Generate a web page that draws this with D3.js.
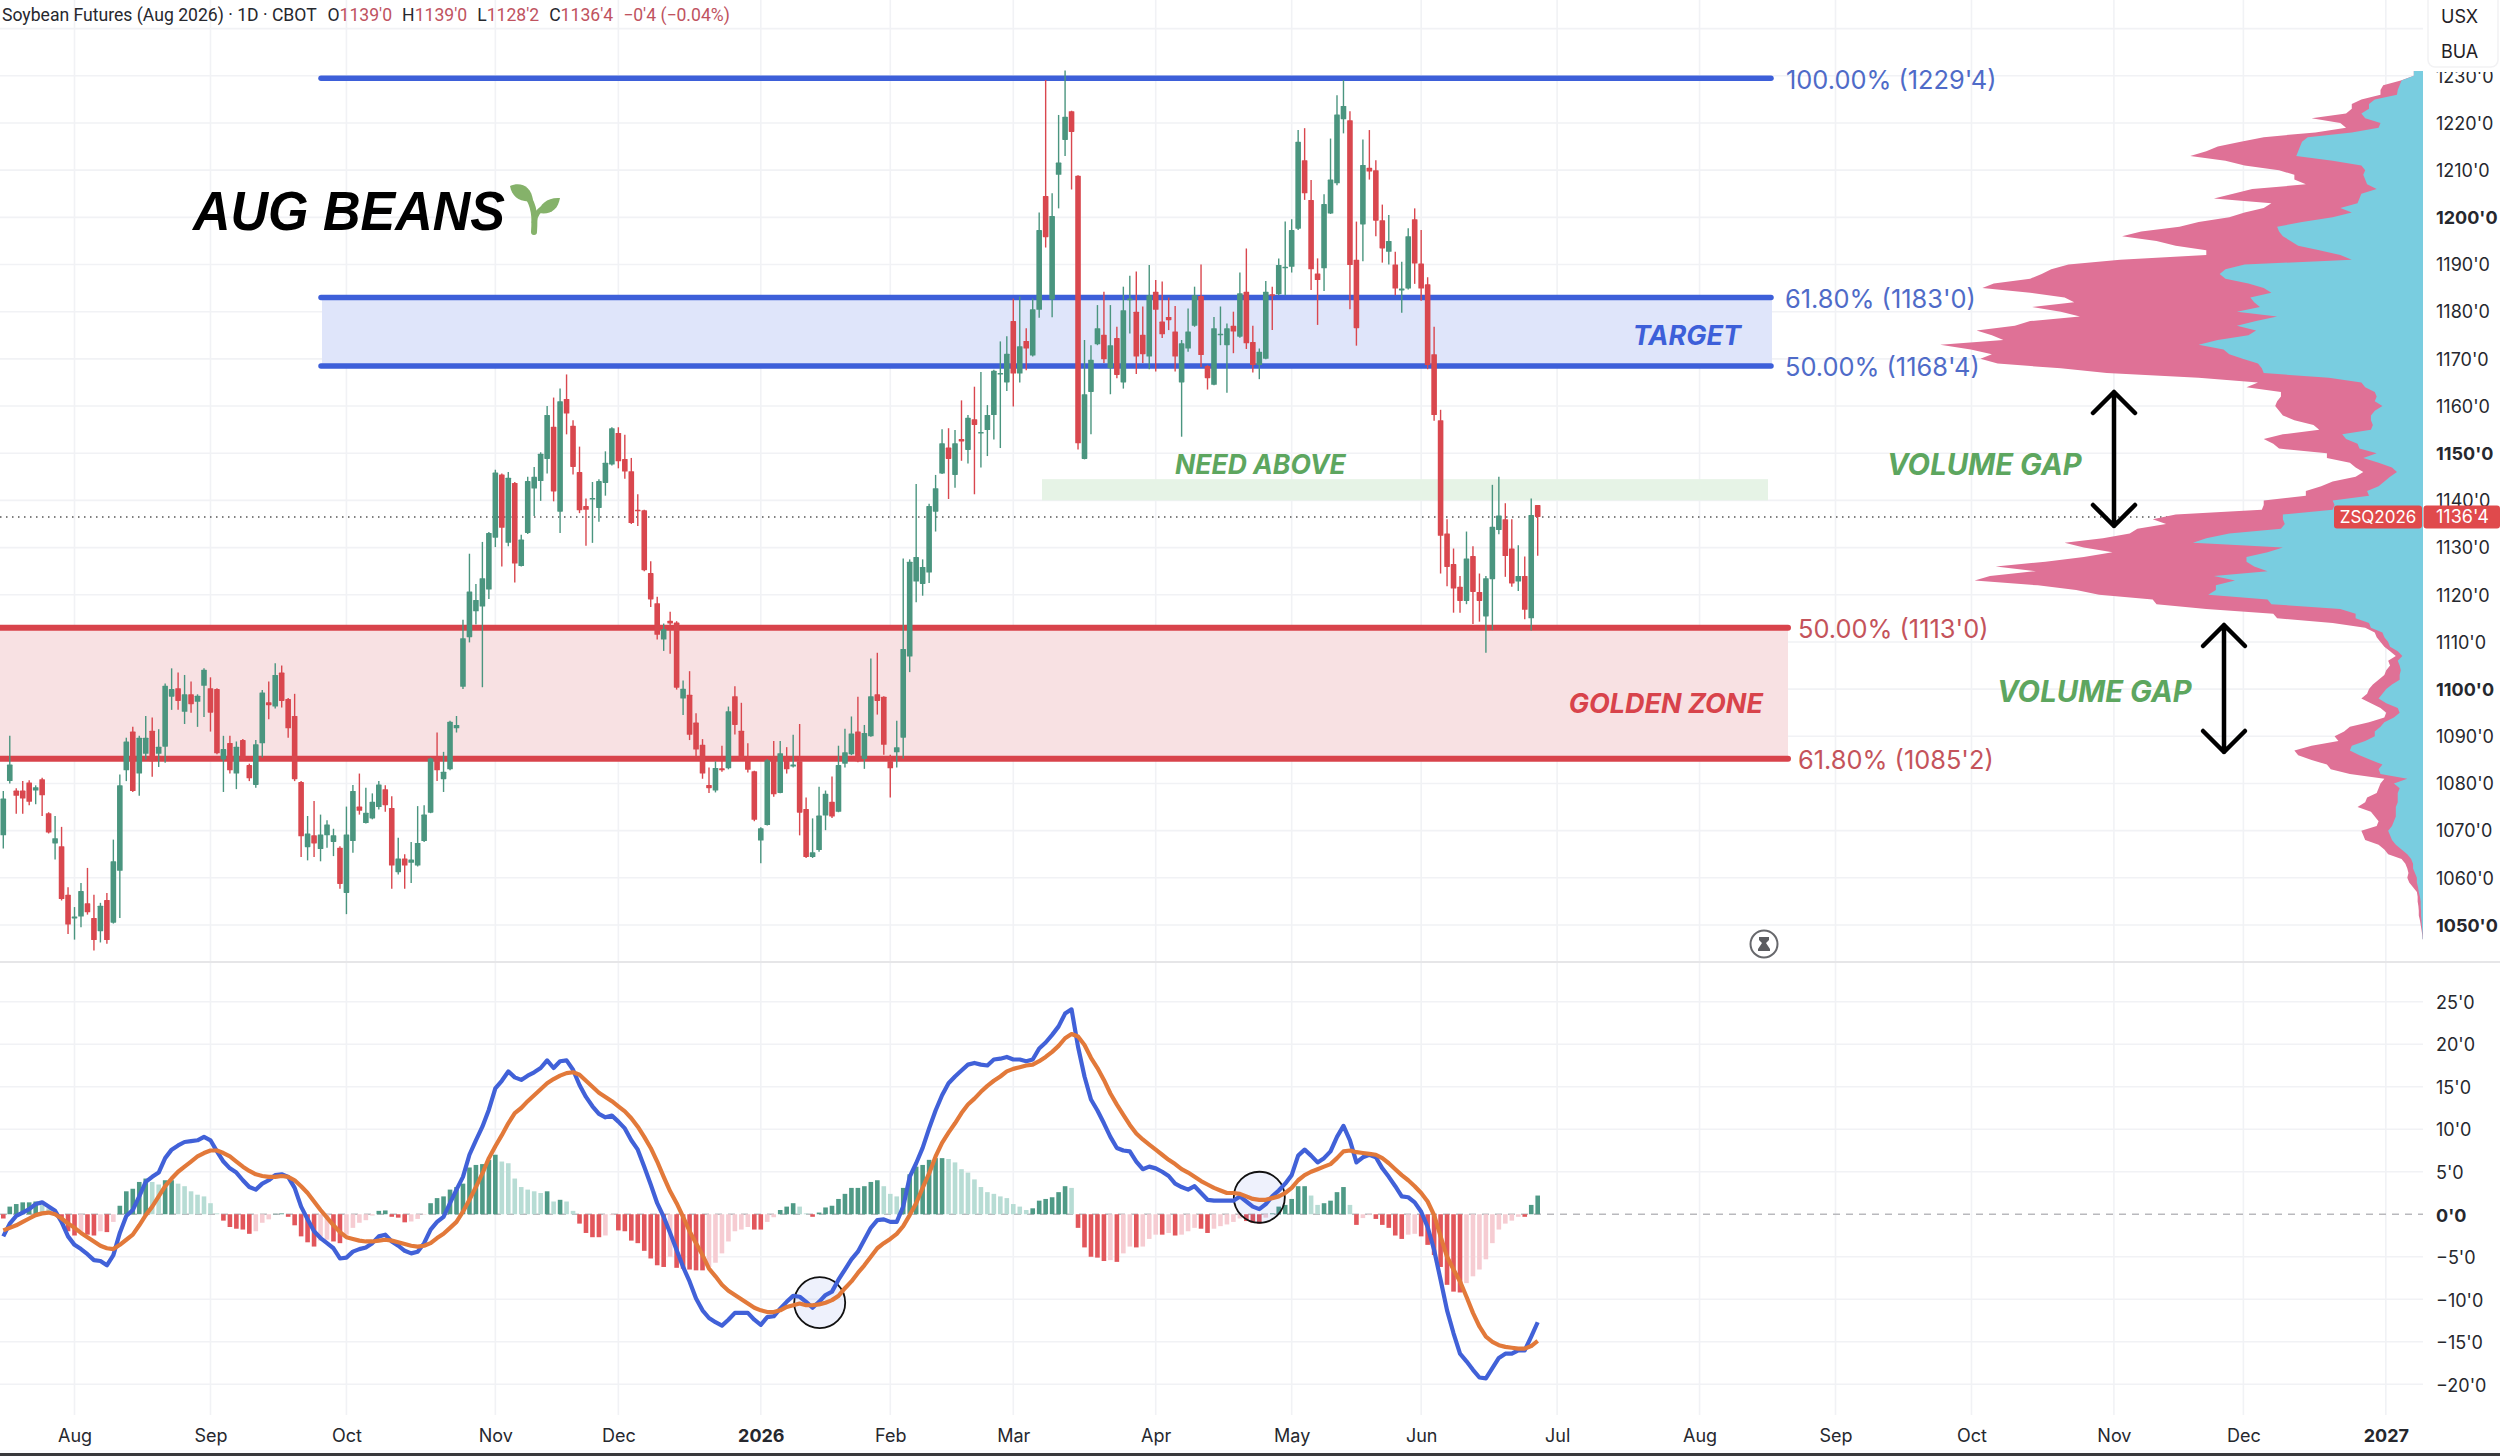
<!DOCTYPE html>
<html>
<head>
<meta charset="utf-8">
<script src="https://cdnjs.cloudflare.com/ajax/libs/d3/7.8.5/d3.min.js"></script>
<style>
html,body{margin:0;padding:0;background:#fff;overflow:hidden}
svg{display:block;font-family:Inter,"Noto Sans",sans-serif}
</style>
</head>
<body>
<script>
var opens = [1069.0,1080.5,1078.5,1078.5,1080.2,1078.5,1080.9,1073.7,1067.3,1066.7,1056.4,1051.4,1051.8,1054.6,1051.5,1048.7,1055.3,1050.5,1061.5,1082.8,
1091.0,1082.1,1086.3,1091.2,1086.3,1087.8,1098.4,1100.2,1095.2,1098.9,1097.3,1100.7,1100.2,1100.0,1085.1,1088.6,1082.1,1089.2,1083.9,1079.7,
1088.5,1097.2,1096.3,1103.5,1097.9,1094.3,1080.3,1066.5,1069.0,1066.1,1069.0,1067.6,1066.4,1056.8,1067.8,1075.1,1071.6,1072.6,1075.0,1078.8,
1074.8,1061.2,1064.1,1063.2,1062.6,1067.8,1073.8,1084.9,1080.9,1083.0,1091.7,1100.5,1111.0,1116.5,1117.5,1121.1,1132.1,1145.5,1131.0,1143.7,
1126.1,1133.1,1142.5,1144.1,1148.8,1155.6,1137.6,1161.5,1155.8,1146.0,1138.8,1140.2,1138.4,1143.7,1147.6,1154.3,1148.8,1146.2,1138.0,1137.9,
1124.6,1118.2,1110.5,1114.5,1114.1,1098.0,1098.8,1092.9,1088.2,1079.7,1078.5,1083.2,1083.2,1098.5,1091.2,1085.1,1082.6,1067.9,1071.2,1084.8,
1078.0,1085.1,1083.6,1084.7,1074.6,1064.4,1065.9,1073.2,1076.1,1074.0,1084.2,1086.2,1091.0,1085.2,1090.0,1098.9,1098.4,1084.7,1086.6,1089.7,
1106.9,1122.8,1122.3,1124.7,1137.6,1145.7,1151.2,1145.4,1153.0,1150.7,1157.2,1154.2,1154.9,1158.1,1166.8,1165.0,1178.0,1166.9,1173.8,1170.7,
1180.4,1204.5,1182.6,1209.0,1216.4,1222.5,1208.8,1148.8,1163.0,1173.1,1175.1,1168.0,1174.4,1165.0,1182.4,1180.0,1175.1,1170.5,1184.2,1177.9,
1178.9,1175.8,1165.0,1172.2,1177.0,1183.3,1168.5,1164.5,1175.0,1172.9,1177.0,1174.7,1184.2,1173.6,1168.7,1170.0,1183.7,1183.7,1189.2,1189.5,
1197.6,1212.1,1203.7,1188.1,1189.2,1200.8,1207.2,1220.8,1220.6,1191.0,1198.5,1210.5,1210.0,1199.4,1192.7,1190.0,1184.5,1184.9,1199.6,1190.2,
1185.8,1171.0,1157.0,1133.0,1126.5,1121.7,1118.7,1128.2,1120.6,1115.4,1123.3,1133.7,1136.0,1129.8,1122.8,1124.0,1115.0,1139.0];
var highs = [1078.4,1090.1,1079.0,1080.5,1080.7,1079.6,1081.2,1073.9,1073.1,1070.8,1058.0,1053.8,1058.9,1062.1,1056.4,1054.7,1056.8,1068.1,1081.9,1089.7,
1092.0,1090.1,1094.3,1094.0,1091.5,1101.2,1104.4,1103.5,1103.0,1101.6,1098.9,1104.4,1102.5,1100.2,1090.1,1090.1,1088.9,1089.4,1084.2,1089.2,
1099.8,1101.6,1105.5,1105.0,1098.1,1099.0,1080.5,1073.1,1076.3,1073.4,1072.2,1070.4,1066.7,1075.1,1079.7,1082.1,1079.1,1077.9,1080.5,1079.6,
1077.3,1068.5,1065.0,1067.6,1075.2,1075.4,1085.5,1090.8,1086.7,1093.3,1094.3,1114.7,1128.7,1122.3,1131.2,1133.3,1146.5,1145.7,1146.0,1143.9,
1132.7,1145.0,1147.1,1150.2,1160.0,1161.8,1163.7,1166.7,1157.0,1151.4,1140.4,1143.9,1144.5,1150.4,1155.5,1155.5,1153.9,1149.0,1141.3,1138.0,
1127.1,1119.6,1113.9,1116.4,1114.4,1101.8,1103.8,1094.9,1089.4,1083.4,1084.7,1088.0,1096.3,1100.6,1097.1,1088.5,1082.7,1070.7,1085.2,1089.0,
1089.0,1087.7,1090.3,1092.6,1077.0,1072.6,1079.3,1078.5,1081.5,1088.0,1091.6,1094.2,1098.4,1092.4,1106.5,1107.7,1098.5,1086.1,1093.3,1127.7,
1127.5,1143.5,1127.5,1139.3,1145.4,1155.1,1155.3,1154.9,1161.2,1158.1,1164.1,1167.2,1160.2,1167.7,1173.7,1174.8,1182.8,1183.2,1176.5,1182.8,
1201.0,1229.1,1205.1,1221.7,1231.1,1222.6,1208.9,1174.0,1172.9,1181.4,1184.2,1181.4,1176.8,1185.3,1187.6,1188.5,1181.1,1189.9,1186.7,1186.4,
1183.0,1181.2,1174.0,1180.7,1185.3,1190.0,1168.7,1178.9,1181.1,1177.5,1180.0,1188.3,1193.4,1177.0,1172.2,1186.5,1185.3,1191.3,1199.1,1199.6,
1218.5,1218.9,1207.9,1191.3,1204.9,1216.7,1225.9,1229.1,1222.5,1199.1,1216.5,1218.5,1212.1,1202.7,1200.5,1192.7,1190.6,1197.7,1201.9,1197.3,
1187.3,1176.8,1159.2,1136.0,1129.8,1124.0,1133.4,1130.3,1124.5,1124.0,1143.3,1145.0,1139.4,1136.0,1130.5,1128.1,1140.4,1139.0];
var lows = [1066.2,1080.0,1073.6,1073.6,1075.4,1075.6,1073.1,1069.4,1063.9,1055.2,1048.1,1046.9,1049.5,1052.2,1044.6,1046.3,1046.0,1050.3,1051.5,1080.5,
1078.2,1077.4,1085.1,1081.4,1083.5,1084.4,1095.6,1095.6,1092.6,1095.0,1092.0,1094.1,1091.0,1086.2,1078.2,1082.1,1078.8,1084.9,1080.5,1079.1,
1085.5,1093.6,1095.9,1096.1,1089.7,1080.5,1064.4,1063.7,1064.4,1063.5,1066.4,1064.6,1057.7,1052.3,1065.3,1073.4,1071.5,1072.4,1074.5,1074.0,
1057.7,1060.7,1057.7,1058.9,1062.4,1067.6,1073.7,1080.5,1078.2,1082.8,1090.8,1100.0,1109.9,1113.7,1100.4,1119.1,1130.1,1126.0,1130.3,1122.6,
1126.0,1132.9,1136.7,1139.9,1145.7,1139.8,1133.1,1154.0,1145.5,1137.3,1130.4,1131.0,1135.5,1141.0,1147.4,1146.8,1144.6,1135.0,1134.6,1125.0,
1117.4,1110.5,1108.1,1107.5,1099.9,1094.5,1089.2,1085.6,1081.0,1078.0,1078.1,1082.5,1083.0,1090.4,1085.1,1082.3,1072.0,1063.1,1071.1,1077.2,
1077.9,1082.1,1083.4,1069.0,1064.2,1064.2,1065.5,1070.1,1072.7,1073.9,1083.4,1086.0,1084.5,1083.1,1089.9,1094.6,1086.1,1077.0,1083.4,1085.3,
1103.6,1118.4,1119.8,1122.5,1133.4,1145.6,1140.3,1142.7,1148.4,1147.8,1141.3,1147.0,1149.4,1152.9,1151.1,1163.2,1159.9,1165.0,1167.6,1170.5,
1178.7,1193.6,1178.8,1201.9,1213.0,1205.9,1150.8,1148.7,1154.0,1172.9,1169.1,1162.5,1165.9,1163.7,1175.4,1166.8,1169.1,1167.8,1167.3,1174.4,
1176.1,1167.3,1153.5,1171.5,1176.8,1168.3,1163.5,1164.4,1172.9,1162.8,1171.2,1174.5,1172.1,1167.1,1165.7,1169.9,1176.1,1183.5,1183.5,1188.3,
1197.3,1203.7,1184.6,1177.2,1184.4,1200.7,1206.8,1217.8,1180.5,1172.8,1190.7,1208.0,1196.0,1190.4,1190.0,1183.5,1179.8,1184.7,1185.9,1182.3,
1167.8,1156.9,1124.5,1121.8,1116.2,1116.2,1118.0,1113.8,1114.3,1107.7,1112.5,1132.8,1123.8,1121.7,1120.8,1114.8,1112.4,1128.25];
var closes = [1076.8,1084.0,1077.4,1076.8,1076.1,1079.2,1077.5,1069.6,1068.4,1055.5,1050.1,1051.8,1057.2,1052.7,1046.8,1054.1,1046.8,1063.5,1079.6,1088.9,
1078.4,1089.7,1089.7,1084.7,1087.8,1100.7,1100.0,1097.5,1098.9,1096.8,1098.6,1104.1,1095.0,1086.4,1087.3,1082.8,1087.8,1085.1,1081.1,1088.3,
1099.3,1096.6,1103.0,1097.5,1091.7,1080.9,1068.8,1069.4,1067.3,1069.2,1071.3,1069.0,1058.7,1069.2,1078.4,1074.2,1073.8,1076.1,1079.8,1075.4,
1062.6,1064.1,1062.6,1063.9,1067.4,1073.4,1085.3,1082.8,1082.5,1093.1,1092.4,1110.8,1120.7,1118.9,1123.5,1133.1,1145.9,1134.2,1144.8,1126.6,
1131.7,1144.1,1145.0,1149.9,1158.1,1141.9,1161.0,1158.4,1147.1,1137.9,1138.0,1140.5,1144.1,1148.0,1155.3,1148.3,1146.1,1135.2,1137.7,1125.2,
1119.0,1111.5,1112.7,1113.9,1100.3,1100.1,1090.3,1087.2,1082.1,1079.0,1083.3,1082.8,1095.3,1092.4,1085.3,1082.9,1072.3,1070.5,1084.9,1077.7,
1086.4,1083.0,1084.0,1073.8,1064.4,1065.4,1073.2,1077.8,1073.0,1083.9,1086.6,1090.6,1084.7,1090.7,1098.5,1097.5,1088.2,1083.2,1087.7,1108.5,
1127.0,1128.0,1125.9,1138.8,1142.6,1152.1,1148.8,1152.1,1152.5,1157.5,1156.0,1154.5,1158.1,1167.5,1167.0,1171.1,1166.9,1172.7,1172.2,1180.5,
1197.3,1195.8,1200.3,1211.6,1221.3,1218.1,1152.1,1162.5,1169.8,1176.5,1169.9,1172.9,1166.6,1180.3,1182.8,1170.5,1171.0,1183.5,1180.4,1175.2,
1178.2,1170.5,1173.3,1175.8,1183.5,1170.8,1165.9,1176.5,1175.3,1176.5,1175.8,1183.9,1173.3,1168.7,1171.5,1184.2,1183.4,1189.9,1189.5,1197.3,
1216.0,1205.1,1189.0,1186.7,1202.8,1208.0,1221.8,1223.6,1189.9,1176.5,1211.1,1209.7,1199.3,1193.4,1195.0,1184.9,1184.9,1196.0,1190.2,1184.9,
1168.7,1158.1,1132.5,1125.9,1121.3,1118.7,1127.7,1120.6,1118.7,1123.5,1134.4,1136.8,1128.2,1122.4,1124.0,1116.8,1136.9,1136.5];

// histogram, macd and signal, one value per candle
var hist = [-0.5,0.9,1.2,1.4,1.4,1.5,1.1,0.7,0.3,-0.9,-2,-2.5,-2.2,-2.4,-2.5,-2,-2.1,-0.9,1,2.7,3,3.8,4.2,3.8,3.5,4,4,3.6,3.3,2.7,2.3,2.1,1.3,0.1,-0.75,-1.5,-1.7,-1.8,-2.3,-2,
-1,-0.6,0.05,0.1,-0.3,-1.3,-2.6,-3.3,-3.8,-3.1,-3,-3.2,-3.4,-2.4,-1.6,-1,-0.7,-0.15,0.4,0.45,-0.3,-0.4,-0.95,-0.85,-0.55,-0.05,1.3,1.9,2.1,2.9,3.2,3.6,5.5,5.8,5.9,6.4,7,6.2,6,4.2,
3.2,2.9,2.7,2.5,2.7,1.5,1.7,1.5,0.4,-1.1,-2.2,-2.7,-2.7,-2.5,-0.1,-1.9,-2,-3.1,-3.4,-4.3,-5.2,-6,-6.2,-5,-6.3,-6.4,-6.5,-6.6,-6.6,-6.2,-5.7,-4.6,-3.2,-2,-1.8,-1.5,-1.8,-1.8,-0.9,-0.35,
0.5,0.9,1.3,0.9,0.1,-0.3,0.2,0.8,1,1.8,2.4,3.1,3.1,3.3,3.8,4,3.3,2.4,2.1,3.1,4.7,5.6,5.8,6.4,6.6,6.6,6.5,6.1,5.3,4.9,4.1,3.2,2.6,2.4,2.1,1.9,1.2,0.9,0.5,0.7,
1.6,1.8,2,2.6,3.3,3.1,-1.6,-3.9,-5,-5.1,-5.5,-5.4,-5.6,-4.6,-3.8,-3.9,-3.8,-2.9,-2.4,-2.4,-2.2,-2.5,-2.4,-2,-1.6,-1.7,-2.2,-1.7,-1.4,-1.2,-0.9,-0.5,-0.8,-1,-1.1,-0.4,0.1,0.9,1.1,1.8,
3.3,3.3,2.2,1.1,1.3,1.6,2.6,3.2,1.1,-1.25,-0.45,-0.1,-0.55,-1.25,-1.6,-2.5,-2.9,-2.4,-2.3,-2.6,-3.6,-4.8,-6.2,-8.3,-9.1,-9.2,-8.1,-7.3,-6.5,-5.3,-3.4,-1.8,-1.1,-0.75,-0.3,-0.3,1.1,2.2];
var macd = [-2.6,-1.1,-0.2,0.2,0.6,1.2,1.4,0.9,0.4,-0.9,-2.6,-3.6,-4.1,-4.7,-5.4,-5.5,-6,-4.8,-2.2,-0.2,0.5,2.1,3.8,4.4,4.9,6.6,7.6,8.1,8.5,8.6,8.7,9.1,8.7,7.4,6.2,5.4,4.9,4,3.2,2.9,
3.6,4,4.6,4.7,4.4,3.1,0.9,-0.6,-2,-2.8,-3.4,-4,-5.2,-5.1,-4.4,-4.1,-3.9,-3.4,-2.6,-2.4,-3.2,-3.7,-4.3,-4.6,-4.4,-3.4,-1.8,-0.9,-0.3,1.3,2.9,4.4,7,8.7,10.3,12.3,14.8,15.7,16.8,16.1,
15.8,16.3,16.7,17.2,18.1,17.2,18,18.1,17,15.2,13.8,12.7,11.8,11.4,11.6,10.9,10.1,8.7,7.6,5.6,3.5,1.3,-0.3,-2.2,-4.2,-6.2,-7.9,-9.9,-11.3,-12.2,-12.7,-13.1,-12.4,-11.6,-11.6,-11.6,-12.4,-13,-12.1,-12,
-11.1,-10.3,-9.6,-9.7,-10.3,-11,-10.3,-9.5,-9.1,-7.7,-6.5,-5.3,-4.4,-3,-1.6,-0.7,-0.6,-0.9,-0.9,0.9,4.4,6,7.8,10.1,12.2,14,15.4,16.2,16.9,17.6,17.8,17.6,17.5,18.2,18.3,18.5,18.2,18.2,18,18.2,
19.5,20.2,21.1,22.1,23.6,24.1,19.7,16.2,13.5,12.2,10.7,9.1,7.8,7.5,7.4,6.2,5.3,5.6,5.4,5,4.5,3.6,3.2,2.9,3.3,2.5,1.7,1.6,1.6,1.6,1.6,2.1,1.5,0.9,0.6,1.2,2.1,2.8,3.6,4.6,
6.9,7.6,6.9,6.1,6.6,7.4,9.1,10.4,8.7,6.1,6.7,7,6.7,5.4,4.4,3.3,2.1,2,1.4,0.3,-1.5,-4.2,-7.7,-11.3,-14,-16.4,-17.3,-18.3,-19.2,-19.3,-18.1,-16.9,-16.4,-16.4,-16,-16,-14.4,-12.7];
var signal = [-1.9,-1.6,-1.3,-0.9,-0.5,-0.1,0.1,0.2,0,-0.5,-1.1,-1.6,-2.2,-2.7,-3.2,-3.7,-4,-4.1,-3.6,-3,-2.4,-1.3,-0.1,0.9,2.1,3.3,4.2,5,5.6,6.2,6.8,7.2,7.5,7.5,7.2,6.8,6.2,5.6,5.1,4.7,
4.5,4.4,4.4,4.5,4.4,4,3.3,2.5,1.5,0.5,-0.4,-1.3,-2.1,-2.7,-2.9,-3.1,-3.2,-3.2,-3.1,-3,-3.1,-3.3,-3.5,-3.7,-3.8,-3.7,-3.4,-2.8,-2.3,-1.6,-0.9,0.3,1.7,3.2,4.8,6.6,8,9.3,10.7,11.9,
12.5,13.3,14,14.7,15.4,15.9,16.3,16.6,16.7,16.4,15.7,15,14.3,13.8,13.3,12.7,12.1,11.3,10.3,9.1,7.8,6.2,4.4,2.7,1.3,-0.3,-2,-3.4,-4.8,-6.4,-7.3,-8.3,-9,-9.5,-10,-10.5,-11,-11.3,-11.5,-11.5,
-11.3,-10.9,-10.7,-10.5,-10.7,-10.7,-10.6,-10.4,-10.1,-9.6,-8.7,-7.9,-6.9,-6,-5,-4,-3.4,-2.9,-2.3,-1.4,-0.1,1.3,3.1,4.8,6.8,8.4,9.6,10.7,11.9,12.9,13.6,14.4,15.1,15.7,16.2,16.8,17.1,17.3,17.5,17.6,
18,18.5,19.1,19.8,20.7,21.2,20.9,19.9,18.4,17.2,15.8,14.2,12.9,11.7,10.5,9.5,8.8,8.2,7.6,7,6.4,5.9,5.3,4.9,4.4,3.9,3.5,3.1,2.8,2.5,2.5,2.4,2.1,1.8,1.7,1.7,1.9,2.1,2.5,3.1,
4,4.6,5,5.3,5.6,5.9,6.6,7.4,7.5,7.3,7.2,7.1,7,6.6,6,5.3,4.6,4,3.3,2.5,1.5,-0.1,-2.6,-5,-6.5,-7.9,-9.7,-11.6,-13.2,-14.4,-15,-15.4,-15.6,-15.7,-15.8,-15.8,-15.5,-14.9];

// volume profile, top row = 1231, one row per price point
var profileTop = 1231;
var profileUp = [24,24,56,61,66,68,126,141,141,161,151,111,116,186,301,316,321,326,331,236,161,151,156,151,146,121,161,166,171,216,186,236,316,381,376,366,346,326,271,216,
186,466,516,531,516,456,416,396,451,441,426,486,381,436,486,436,456,536,586,521,506,471,431,421,416,246,161,151,126,121,126,106,126,136,136,131,136,211,201,171,
166,121,156,116,81,68,86,101,116,146,141,236,231,236,366,366,361,371,506,566,601,366,406,461,461,441,406,546,491,541,541,561,406,396,216,176,176,141,136,106,
101,91,86,66,54,66,61,58,61,61,81,96,106,116,96,66,61,76,101,111,126,126,151,186,191,166,136,106,116,111,41,76,61,66,66,66,71,71,71,76,
81,91,86,81,71,56,41,31,26,26,21,16,16,13,11,8,6,6,5,5,4,3,2,1,1];
var profileTotal = [24,24,58,104,111,111,161,186,186,201,291,216,201,281,416,476,536,566,608,516,466,376,336,336,306,446,496,546,396,416,466,506,586,636,736,786,696,646,566,566,
791,926,971,996,1026,1121,1151,1026,936,911,1021,946,896,1026,1066,1166,1126,1096,1261,1181,1126,1156,1111,946,826,586,431,461,371,371,381,386,376,366,336,286,271,366,416,391,
376,251,251,191,176,156,176,236,266,306,306,416,416,421,646,706,671,746,766,836,936,886,811,886,986,1116,1011,1131,1171,1006,906,846,706,696,566,391,381,236,151,126,
121,111,101,86,71,91,86,96,101,116,131,141,146,161,136,111,96,101,141,191,206,231,221,291,336,326,291,251,241,191,101,111,116,121,146,151,171,136,126,116,
121,161,156,151,116,101,91,56,46,41,38,41,36,26,16,14,14,12,11,11,8,6,4,2,1];

var priceTicks = d3.range(1050, 1240, 10);
var macdTicks = [-20,-15,-10,-5,0,5,10,15,20,25];
var monthIdx = [11,32,53,76,95,117,137,156,178,199,219,240,262,283,304,326,346,368];
var monthNames = ["Aug","Sep","Oct","Nov","Dec","2026","Feb","Mar","Apr","May","Jun","Jul","Aug","Sep","Oct","Nov","Dec","2027"];
var boldPrices = [1050,1100,1150,1200];
var lastPrice = 1136.5;

var W = 2500, H = 1456;
var green = "#4a957f", red = "#d9474e", blue = "#3d5fd9", redLine = "#d8434b";

var x = d3.scaleLinear().domain([0, 237]).range([3.3, 1537.7]);
var y = d3.scaleLinear().domain([1050, 1230]).range([925, 75.8]);
var yM = d3.scaleLinear().domain([-20, 25]).range([1384.3, 1001.7]);
var xVol = d3.scaleLinear().domain([0, 1366]).range([2423, 1900]);

function ticksPrice(d) { return d + "'0"; }
function ticksMacd(d) { return (d < 0 ? "\u2212" + (-d) : d) + "'0"; }

var svg = d3.select("body").append("svg").attr("width", W).attr("height", H);
svg.append("rect").attr("width", W).attr("height", H).attr("fill", "#fff");

// grid
var grid = svg.append("g").attr("stroke", "#f1f2f5").attr("stroke-width", 1.6);
grid.selectAll(".h1").data(priceTicks.concat([1240])).enter().append("line")
    .attr("x1", 0).attr("x2", 2423).attr("y1", y).attr("y2", y);
grid.selectAll(".h2").data(macdTicks.filter(function(d){ return d != 0; })).enter().append("line")
    .attr("x1", 0).attr("x2", 2423).attr("y1", yM).attr("y2", yM);
grid.selectAll(".v").data(monthIdx).enter().append("line")
    .attr("x1", x).attr("x2", x).attr("y1", 0).attr("y2", 1415);

// pane separator and bottom edge
svg.append("line").attr("x1", 0).attr("x2", W).attr("y1", 962).attr("y2", 962).attr("stroke", "#e6e6e8").attr("stroke-width", 2);
svg.append("rect").attr("x", 0).attr("y", 1453).attr("width", W).attr("height", 3).attr("fill", "#3a3a3c");

// bands
svg.append("rect").attr("x", 322).attr("width", 1450).attr("y", y(1183)).attr("height", y(1168.5) - y(1183)).attr("fill", "#dfe5fa");
svg.append("rect").attr("x", 0).attr("width", 1788).attr("y", y(1113)).attr("height", y(1085.25) - y(1113)).attr("fill", "#f8e1e3");
svg.append("rect").attr("x", 1042).attr("width", 726).attr("y", y(1144.5)).attr("height", y(1140) - y(1144.5)).attr("fill", "#e6f3e6");

// level lines
var blueLevels = [1229.5, 1183, 1168.5];
var redLevels = [1113, 1085.25];
svg.selectAll(".bl").data(blueLevels).enter().append("line")
    .attr("x1", 321).attr("x2", 1771).attr("y1", y).attr("y2", y)
    .attr("stroke", blue).attr("stroke-width", 5.5).attr("stroke-linecap", "round");
svg.selectAll(".rl").data(redLevels).enter().append("line")
    .attr("x1", -4).attr("x2", 1788).attr("y1", y).attr("y2", y)
    .attr("stroke", redLine).attr("stroke-width", 6).attr("stroke-linecap", "round");

// last price line
svg.append("line").attr("x1", 0).attr("x2", 2423).attr("y1", y(lastPrice)).attr("y2", y(lastPrice))
    .attr("stroke", "#555").attr("stroke-width", 1.5).attr("stroke-dasharray", "1.5 4.5");

// candles
var idx = d3.range(opens.length);
var candleColor = function(i) { return closes[i] >= opens[i] ? green : red; };
var candles = svg.append("g");
candles.selectAll(".wick").data(idx).enter().append("line")
    .attr("x1", x).attr("x2", x)
    .attr("y1", function(i) { return y(highs[i]); })
    .attr("y2", function(i) { return y(lows[i]); })
    .attr("stroke", candleColor).attr("stroke-width", 1.4);
candles.selectAll(".body").data(idx).enter().append("rect")
    .attr("x", function(i) { return x(i) - 2.8; })
    .attr("width", 5.6)
    .attr("y", function(i) { return y(Math.max(opens[i], closes[i])); })
    .attr("height", function(i) { return Math.max(1.5, Math.abs(y(opens[i]) - y(closes[i]))); })
    .attr("rx", 0.6)
    .attr("fill", candleColor);

// volume profile, drawn as areas so the spikes taper
var rows = d3.range(profileTotal.length);
var rowY = function(i) { return y(profileTop - i); };
var areaTotal = d3.area().y(rowY).x0(xVol(0)).x1(function(i) { return xVol(profileTotal[i]); });
var areaUp = d3.area().y(rowY).x0(xVol(0)).x1(function(i) { return xVol(profileUp[i]); });
var prof = svg.append("g");
prof.append("path").attr("d", areaTotal(rows)).attr("fill", "#df7196");
prof.append("path").attr("d", areaUp(rows)).attr("fill", "#79cde0");

// macd pane
svg.append("line").attr("x1", 0).attr("x2", 2423).attr("y1", yM(0)).attr("y2", yM(0))
    .attr("stroke", "#b9b9bd").attr("stroke-width", 1.5).attr("stroke-dasharray", "7 6");
function histColor(i) {
    var prev = i > 0 ? hist[i - 1] : 0;
    if (hist[i] >= 0) return hist[i] >= prev ? "#4f9a86" : "#b7dcd4";
    return hist[i] <= prev ? "#e2565b" : "#f6ccd2";
}
svg.selectAll(".hb").data(idx).enter().append("rect")
    .attr("x", function(i) { return x(i) - 2.3; })
    .attr("width", 4.6)
    .attr("y", function(i) { return Math.min(yM(hist[i]), yM(0)); })
    .attr("height", function(i) { return Math.abs(yM(hist[i]) - yM(0)); })
    .attr("fill", histColor);

// circles marking the crosses
var crossMarks = [{ i: 126.1, v: -10.4 }, { i: 194, v: 2.0 }];
svg.selectAll(".cm").data(crossMarks).enter().append("circle")
    .attr("cx", function(d) { return x(d.i); })
    .attr("cy", function(d) { return yM(d.v); })
    .attr("r", 25.5)
    .attr("fill", "#3d5fd9").attr("fill-opacity", 0.09)
    .attr("stroke", "#111").attr("stroke-width", 1.8);

var macdLine = d3.line().x(function(d, i) { return x(i); }).y(function(d) { return yM(d); });
svg.append("path").attr("d", macdLine(macd)).attr("fill", "none").attr("stroke", "#4161d8").attr("stroke-width", 4.2).attr("stroke-linejoin", "round");
svg.append("path").attr("d", macdLine(signal)).attr("fill", "none").attr("stroke", "#e2793a").attr("stroke-width", 4.2).attr("stroke-linejoin", "round");

// axes
var axisPrice = d3.axisRight(y).tickValues(priceTicks).tickSize(0).tickPadding(0).tickFormat(ticksPrice);
var gPrice = svg.append("g").attr("transform", "translate(2436,0.5)").call(axisPrice);
gPrice.select(".domain").remove();
gPrice.selectAll("text")
    .attr("font-family", "Inter").attr("font-size", 18).attr("fill", "#26282e")
    .attr("font-weight", function(d) { return boldPrices.indexOf(d) >= 0 ? 700 : 400; });

var axisMacd = d3.axisRight(yM).tickValues(macdTicks).tickSize(0).tickPadding(0).tickFormat(ticksMacd);
var gMacd = svg.append("g").attr("transform", "translate(2436,1)").call(axisMacd);
gMacd.select(".domain").remove();
gMacd.selectAll("text")
    .attr("font-family", "Inter").attr("font-size", 18).attr("fill", "#26282e")
    .attr("font-weight", function(d) { return d == 0 ? 700 : 400; });

var axisMonth = d3.axisBottom(x).tickValues(monthIdx).tickSize(0).tickPadding(0)
    .tickFormat(function(d, i) { return monthNames[i]; });
var gMonth = svg.append("g").attr("transform", "translate(0,1429)").call(axisMonth);
gMonth.select(".domain").remove();
gMonth.selectAll("text")
    .attr("font-family", "Inter").attr("font-size", 18).attr("fill", "#26282e")
    .attr("font-weight", function(d, i) { return /^20/.test(monthNames[i]) ? 700 : 400; });

// USX / BUA box, it cuts the top tick label
svg.append("rect").attr("x", 2425).attr("y", -4).attr("width", 80).attr("height", 76).attr("fill", "#fff");
svg.append("rect").attr("x", 2428).attr("y", -8).attr("width", 70).attr("height", 75).attr("rx", 7)
    .attr("fill", "#fff").attr("stroke", "#f2f2f4").attr("stroke-width", 1.5);
svg.selectAll(".unit").data(["USX", "BUA"]).enter().append("text")
    .attr("x", 2441).attr("y", function(d, i) { return 23 + i * 35; })
    .attr("font-family", "Inter").attr("font-size", 18).attr("fill", "#1f2126").text(function(d) { return d; });

// last price tag
var tag = svg.append("g");
tag.append("rect").attr("x", 2334).attr("y", y(lastPrice) - 11.5).attr("width", 88).attr("height", 23).attr("rx", 3).attr("fill", "#e04a4c");
tag.append("rect").attr("x", 2423.5).attr("y", y(lastPrice) - 11.5).attr("width", 76.5).attr("height", 23).attr("rx", 3).attr("fill", "#e04a4c");
tag.append("text").attr("x", 2378).attr("y", y(lastPrice) + 6.5).attr("text-anchor", "middle")
    .attr("font-family", "Inter").attr("font-size", 17).attr("fill", "#fff").text("ZSQ2026");
tag.append("text").attr("x", 2436).attr("y", y(lastPrice) + 6.5)
    .attr("font-family", "Inter").attr("font-size", 18).attr("fill", "#fff").text("1136'4");

// legend line
var legend = svg.append("text").attr("x", 2).attr("y", 21).attr("font-family", "Roboto").attr("font-size", 17.6).attr("fill", "#26282e");
legend.append("tspan").text("Soybean Futures (Aug 2026) \u00b7 1D \u00b7 CBOT");
var ohlcLabels = ["O", "H", "L", "C"];
var ohlcText = ["1139'0", "1139'0", "1128'2", "1136'4"];
ohlcLabels.forEach(function(l, i) {
    legend.append("tspan").attr("dx", i == 0 ? 11 : 10).text(l);
    legend.append("tspan").attr("fill", "#c0535f").text(ohlcText[i]);
});
legend.append("tspan").attr("dx", 10).attr("fill", "#c0535f").text("\u22120'4 (\u22120.04%)");

// title and sprout
svg.append("text").attr("x", 193).attr("y", 230).attr("font-family", "Liberation Sans").attr("font-style", "italic")
    .attr("font-weight", 700).attr("font-size", 55).attr("fill", "#000")
    .attr("textLength", 312).attr("lengthAdjust", "spacingAndGlyphs").text("AUG BEANS");
var sprout = svg.append("g");
sprout.append("path").attr("d", "M534,232 C535,218 535,206 526,194").attr("fill", "none").attr("stroke", "#85b26a").attr("stroke-width", 6).attr("stroke-linecap", "round");
sprout.append("path").attr("d", "M534,223 C535,214 539,209 547,206").attr("fill", "none").attr("stroke", "#85b26a").attr("stroke-width", 5);
sprout.append("path").attr("d", "M510,186 C520,181 532,186 533,201 C520,203 512,197 510,186 Z").attr("fill", "#85b26a");
sprout.append("path").attr("d", "M560,198 C558,210 550,215 539,213 C539,204 548,197 560,198 Z").attr("fill", "#85b26a");

// fib labels
var fibLabels = [
    { t: "100.00% (1229'4)", p: 1229.5, c: "#4f6bc8", x0: 1786 },
    { t: "61.80% (1183'0)", p: 1183, c: "#4f6bc8", x0: 1785 },
    { t: "50.00% (1168'4)", p: 1168.5, c: "#4f6bc8", x0: 1785 },
    { t: "50.00% (1113'0)", p: 1113, c: "#c4535b", x0: 1798 },
    { t: "61.80% (1085'2)", p: 1085.25, c: "#c4535b", x0: 1798 }
];
svg.selectAll(".fib").data(fibLabels).enter().append("text")
    .attr("x", function(d) { return d.x0; })
    .attr("y", function(d) { return y(d.p) + 10.5; })
    .attr("font-family", "Inter").attr("font-size", 25.4).attr("fill", function(d) { return d.c; })
    .text(function(d) { return d.t; });

// annotations
var notes = [
    { t: "TARGET", x0: 1741, y0: 345, a: "end", c: "#3d5fd9", s: 27 },
    { t: "GOLDEN ZONE", x0: 1763, y0: 713, a: "end", c: "#d8434b", s: 27 },
    { t: "NEED ABOVE", x0: 1175, y0: 474, a: "start", c: "#5da65f", s: 26.5 },
    { t: "VOLUME GAP", x0: 1887, y0: 475, a: "start", c: "#5da65f", s: 29.2 },
    { t: "VOLUME GAP", x0: 1997, y0: 702, a: "start", c: "#5da65f", s: 29.2 }
];
svg.selectAll(".note").data(notes).enter().append("text")
    .attr("x", function(d) { return d.x0; }).attr("y", function(d) { return d.y0; })
    .attr("text-anchor", function(d) { return d.a; })
    .attr("font-family", "Inter").attr("font-style", "italic").attr("font-weight", 700)
    .attr("font-size", function(d) { return d.s; })
    .attr("fill", function(d) { return d.c; }).text(function(d) { return d.t; });

// double arrows
var arrows = [{ x0: 2114, y0: 392, y1: 526 }, { x0: 2224, y0: 625, y1: 752 }];
svg.selectAll(".arr").data(arrows).enter().append("path")
    .attr("d", function(d) {
        return "M" + d.x0 + "," + d.y0 + "V" + d.y1 +
            "M" + (d.x0 - 21) + "," + (d.y0 + 21) + "L" + d.x0 + "," + d.y0 + "L" + (d.x0 + 21) + "," + (d.y0 + 21) +
            "M" + (d.x0 - 21) + "," + (d.y1 - 21) + "L" + d.x0 + "," + d.y1 + "L" + (d.x0 + 21) + "," + (d.y1 - 21);
    })
    .attr("fill", "none").attr("stroke", "#000").attr("stroke-width", 4.5).attr("stroke-linecap", "round").attr("stroke-linejoin", "round");

// small round logo
var logo = svg.append("g").attr("transform", "translate(1764,944)");
logo.append("circle").attr("r", 13.5).attr("fill", "#fff").attr("stroke", "#67686c").attr("stroke-width", 2);
logo.append("path").attr("d", "M-5,-7 H5 V-4 L2,-1 L6,5 V7 H-6 V5 L-2,-1 L-5,-4 Z").attr("fill", "#5b5c60");
</script>
</body>
</html>
